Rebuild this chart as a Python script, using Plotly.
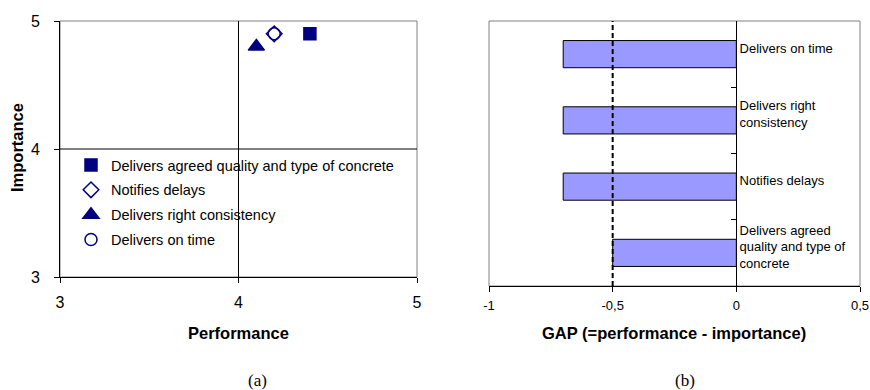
import plotly.graph_objects as go

# ---- data -------------------------------------------------------------
criteria = [
    "Delivers agreed quality and type of concrete",
    "Notifies delays",
    "Delivers right consistency",
    "Delivers on time",
]
performance = [4.4, 4.2, 4.1, 4.2]
importance = [4.9, 4.9, 4.8, 4.9]
symbols = ["square", "diamond-open", "triangle-up", "circle-open"]
marker_sizes = [12, 12, 14, 12]

gap_categories = [
    "Delivers agreed quality and type of concrete",
    "Notifies delays",
    "Delivers right consistency",
    "Delivers on time",
]
gap_values = [-0.5, -0.7, -0.7, -0.7]
gap_tick_labels = [
    "Delivers agreed<br>quality and type of<br>concrete",
    "Notifies delays",
    "Delivers right<br>consistency",
    "Delivers on time",
]
gap_x_ticks = [-1, -0.5, 0, 0.5]
gap_x_tick_labels = ["-1", "-0,5", "0", "0,5"]
quad_ticks = [3, 4, 5]

W, H = 870, 390
SANS = "Liberation Sans, Arial, sans-serif"
SERIF = "Liberation Serif, Times New Roman, serif"
NAVY = "#000080"


def px_x(p):
    return p / W


def px_y(p):
    return 1 - p / H


fig = go.Figure()

# ---- (a) importance / performance scatter -----------------------------
for i, name in enumerate(criteria):
    fig.add_trace(go.Scatter(
        x=[performance[i]], y=[importance[i]], mode="markers", name=name,
        legendgroup=f"g{i}",
        marker=dict(symbol=symbols[i], size=marker_sizes[i], color=NAVY,
                    line=dict(color=NAVY, width=1.5)),
        xaxis="x", yaxis="y", showlegend=True,
    ))

# ---- (b) gap bars ------------------------------------------------------
fig.add_trace(go.Bar(
    y=gap_categories, x=gap_values, orientation="h", width=0.41,
    marker=dict(color="#9999FF", line=dict(color="black", width=1)),
    xaxis="x2", yaxis="y2", showlegend=False,
))

axis_common = dict(showgrid=False, zeroline=False, showline=True,
                   linecolor="black", linewidth=1, ticks="outside",
                   ticklen=5, tickcolor="black", fixedrange=True,
                   automargin=False)

fig.update_layout(
    width=W, height=H,
    margin=dict(l=0, r=0, t=0, b=0),
    paper_bgcolor="white", plot_bgcolor="white",
    font=dict(family=SANS, color="black"),
    xaxis=dict(domain=[px_x(60), px_x(417)], range=[3, 5], anchor="y",
               tickvals=quad_ticks, tickfont=dict(size=16),
               ticklabelstandoff=6, **axis_common),
    yaxis=dict(domain=[px_y(277), px_y(21)], range=[3, 5], anchor="x",
               tickvals=quad_ticks, tickfont=dict(size=16),
               ticklabelstandoff=11, **axis_common),
    xaxis2=dict(domain=[px_x(489), px_x(860)], range=[-1, 0.5], anchor="y2",
                tickvals=gap_x_ticks, ticktext=gap_x_tick_labels,
                tickfont=dict(size=13), ticklabelstandoff=2, **axis_common),
    yaxis2=dict(domain=[px_y(286), px_y(21)], range=[-0.5, 3.5],
                type="category", categoryorder="array",
                categoryarray=gap_categories,
                tickvals=gap_categories, ticktext=gap_tick_labels,
                anchor="free", position=px_x(736), side="right",
                showgrid=False, zeroline=False, showline=True,
                linecolor="black", linewidth=1, ticks="inside",
                tickson="boundaries", ticklen=5, tickcolor="black",
                tickfont=dict(size=13), ticklabelshift=-6, fixedrange=True,
                automargin=False),
    legend=dict(x=px_x(71), y=px_y(149), xanchor="left", yanchor="top",
                bgcolor="rgba(0,0,0,0)", font=dict(size=14.5),
                tracegroupgap=3, itemwidth=30),
    showlegend=True,
)

# plot-area frames and reference lines
shapes = [
    dict(type="rect", xref="x domain", yref="y domain", x0=0, x1=1, y0=0, y1=1,
         line=dict(color="#808080", width=1), layer="below"),
    dict(type="rect", xref="x2 domain", yref="y2 domain", x0=0, x1=1, y0=0, y1=1,
         line=dict(color="#808080", width=1), layer="below"),
    dict(type="line", xref="x", yref="y domain", x0=4, x1=4, y0=0, y1=1,
         line=dict(color="black", width=1)),
    dict(type="line", xref="x domain", yref="y", x0=0, x1=1, y0=4, y1=4,
         line=dict(color="black", width=1)),
    dict(type="line", xref="x2", yref="y2 domain", x0=-0.5, x1=-0.5, y0=0, y1=1,
         line=dict(color="black", width=2, dash="5px,3px")),
]
fig.update_layout(shapes=shapes)

annotations = [
    dict(text="<b>Performance</b>", x=px_x(238), y=px_y(333),
         font=dict(size=16.5)),
    dict(text="<b>Importance</b>", x=px_x(17), y=px_y(148), textangle=-90,
         font=dict(size=16.5)),
    dict(text="<b>GAP (=performance - importance)</b>", x=px_x(674), y=px_y(333),
         font=dict(size=16.5)),
    dict(text="(a)", x=px_x(257), y=px_y(380), font=dict(size=17, family=SERIF)),
    dict(text="(b)", x=px_x(685), y=px_y(380), font=dict(size=17, family=SERIF)),
]
for a in annotations:
    fig.add_annotation(xref="paper", yref="paper", showarrow=False,
                       xanchor="center", yanchor="middle", **a)

fig.write_html("out.html")
